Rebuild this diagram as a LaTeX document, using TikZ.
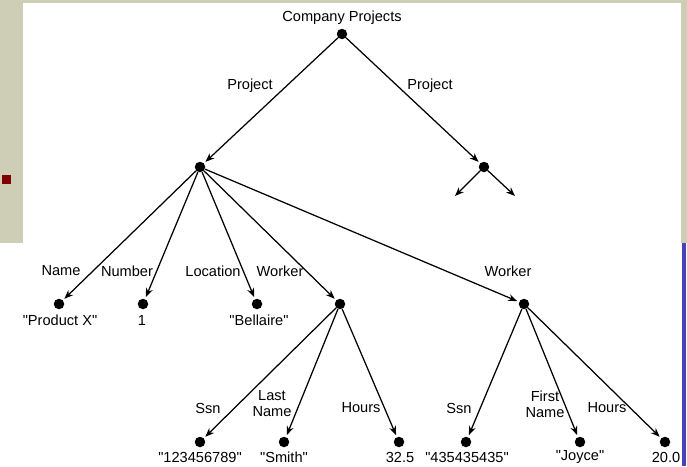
\documentclass[tikz,border=0pt]{standalone}
\usepackage{fontspec}
\setmainfont{Liberation Sans}[Ligatures=TeXOff]
\usepackage{xcolor}
\usetikzlibrary{arrows.meta}

\definecolor{slidebeige}{RGB}{206,206,182}
\definecolor{slideblue}{RGB}{68,68,180}
\definecolor{slidered}{RGB}{128,0,0}

\tikzset{
  dot/.style={circle,fill=black,inner sep=0pt,minimum size=10.5pt},
  lbl/.style={font=\fontsize{14.6}{16}\selectfont,inner sep=0pt,align=center},
  link/.style={-{Stealth[length=9pt,width=7pt]},line width=1.25pt,shorten >=2pt}
}

\begin{document}
\begin{tikzpicture}[x=1pt,y=-1pt]
		\useasboundingbox (0,0) rectangle (687,466);
		% slide background
		\fill[slidebeige] (0,0) rectangle (687,243);
		\fill[white] (23,3) rectangle (681,243);
		\fill[slideblue] (682,243) rectangle (686,466);
		\fill[slidered] (2,175) rectangle (11,184);
		% nodes
		\node[dot] (root) at (342,34) {};
		\node[dot] (proj1) at (200,167) {};
		\node[dot] (proj2) at (484,167) {};
		\coordinate (more1) at (455,196);
		\coordinate (more2) at (515,196);
		\node[dot] (name) at (59,304) {};
		\node[dot] (number) at (143,304) {};
		\node[dot] (location) at (257,304) {};
		\node[dot] (worker1) at (340,304) {};
		\node[dot] (worker2) at (524,304) {};
		\node[dot] (ssn1) at (200,442) {};
		\node[dot] (lname) at (284,442) {};
		\node[dot] (hours1) at (399,442) {};
		\node[dot] (ssn2) at (466,442) {};
		\node[dot] (fname) at (580,442) {};
		\node[dot] (hours2) at (665,442) {};
		% edges
		\draw[link] (root) -- (proj1);
		\draw[link] (root) -- (proj2);
		\draw[link,shorten >=0pt] (proj2) -- (more1);
		\draw[link,shorten >=0pt] (proj2) -- (more2);
		\foreach \t in {name,number,location,worker1,worker2}
			\draw[link] (proj1) -- (\t);
		\foreach \t in {ssn1,lname,hours1}
			\draw[link] (worker1) -- (\t);
		\foreach \t in {ssn2,fname,hours2}
			\draw[link] (worker2) -- (\t);
		% edge labels
		\node[lbl] (tRoot) at (342,18) {Company Projects};
		\node[lbl] (tProj1) at (250,86) {Project};
		\node[lbl] (tProj2) at (430,86) {Project};
		\node[lbl] (tName) at (61,271) {Name};
		\node[lbl] (tNumber) at (127,271) {Number};
		\node[lbl] (tLocation) at (213,271) {Location};
		\node[lbl] (tWorker1) at (280,271) {Worker};
		\node[lbl] (tWorker2) at (508,271) {Worker};
		\node[lbl] (tSsn1) at (208,408) {Ssn};
		\node[lbl] (tLname) at (272,404) {Last\\Name};
		\node[lbl] (tHours1) at (361,408) {Hours};
		\node[lbl] (tSsn2) at (459,408) {Ssn};
		\node[lbl] (tFname) at (545,404) {First\\Name};
		\node[lbl] (tHours2) at (607,408) {Hours};
		% values
		\node[lbl] (vName) at (60,320) {"Product X"};
		\node[lbl] (vNumber) at (142,320) {1};
		\node[lbl] (vLocation) at (259,320) {"Bellaire"};
		\node[lbl] (vSsn1) at (200,457) {"123456789"};
		\node[lbl] (vLname) at (284,457) {"Smith"};
		\node[lbl] (vHours1) at (400,457) {32.5};
		\node[lbl] (vSsn2) at (467,457) {"435435435"};
		\node[lbl] (vFname) at (580,457) {"Joyce"};
		\node[lbl] (vHours2) at (666,457) {20.0};
	\end{tikzpicture}
\end{document}
